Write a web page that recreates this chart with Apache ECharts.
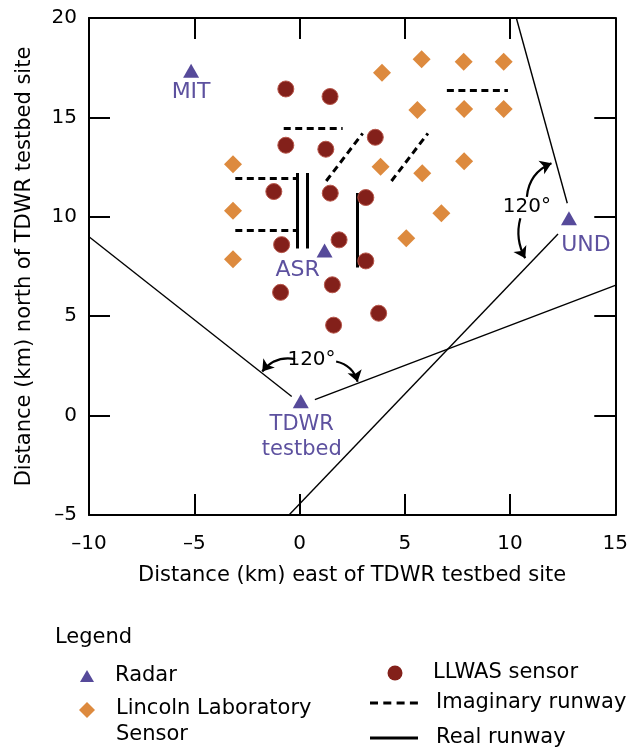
<!DOCTYPE html>
<html>
<head>
<meta charset="utf-8">
<script src="https://cdn.jsdelivr.net/npm/echarts@6/dist/echarts.min.js"></script>
<style>
html,body{margin:0;padding:0;background:#fff;}
#chart{width:631px;height:751px;}
</style>
</head>
<body>
<div id="chart"></div>
<script>
// ---------- DATA ----------
const xTicks = [-10, -5, 0, 5, 10, 15];
const yTicks = [-5, 0, 5, 10, 15, 20];

const radarNames = ['MIT', 'ASR', 'UND', 'TDWR\ntestbed'];
const radarX = [-5.15, 1.19, 12.8, 0.06];
const radarY = [17.35, 8.3, 9.93, 0.72];

const llwasX = [-0.65, 1.45, -0.65, 1.25, 3.6, -1.22, 1.46, 3.15, -0.85, 1.88, 3.15, -0.9, 1.56, 1.62, 3.76];
const llwasY = [16.43, 16.05, 13.6, 13.4, 14.0, 11.27, 11.19, 10.97, 8.6, 8.84, 7.78, 6.2, 6.58, 4.55, 5.15];

const lincolnX = [-3.16, -3.16, -3.16, 3.92, 5.8, 7.8, 9.7, 5.6, 7.82, 9.7, 3.85, 5.83, 7.82, 6.74, 5.07];
const lincolnY = [12.64, 10.3, 7.87, 17.25, 17.92, 17.8, 17.8, 15.37, 15.42, 15.42, 12.52, 12.19, 12.8, 10.18, 8.92];

// segments: [x1, y1, x2, y2]
const imaginaryRunways = [
  [-0.75, 14.45, 2.05, 14.45],
  [-3.05, 11.93, -0.12, 11.93],
  [-3.05, 9.3, -0.12, 9.3],
  [1.27, 11.8, 3.0, 14.2],
  [4.37, 11.8, 6.1, 14.2],
  [7.0, 16.35, 9.9, 16.35]
];
const realRunways = [
  [-0.12, 12.2, -0.12, 8.4],
  [0.37, 12.2, 0.37, 8.4],
  [2.75, 11.2, 2.75, 7.45]
];
const coverageLines = [
  [-10, 9.0, -0.37, 0.96],
  [0.73, 0.8, 15, 6.55],
  [10.3, 20, 12.72, 10.68],
  [-0.5, -5, 12.28, 9.13]
];
const angleArrows = [
  [-0.21, 2.84, -1.77, 2.22],
  [1.74, 2.72, 2.76, 1.7],
  [10.8, 11.0, 11.97, 12.69],
  [10.49, 9.93, 10.72, 7.92]
];
const angleLabelX = [0.57, 10.8];
const angleLabelY = [2.8, 10.5];
const angleLabelText = ['120°', '120°'];

// ---------- STYLE ----------
const FONT = '"DejaVu Sans", "Liberation Sans", Arial, sans-serif';
const radarColor = '#564a9a';
const radarTextColor = '#5d519f';
const llwasColor = '#83201a';
const lincolnColor = '#dd8a3e';
const ink = '#000000';
const arrowCurve = [-0.3, 0.3, 0.3, -0.2];
const radarLabelStyle = {
  'MIT': {offset: [0, 22], fontSize: 22},
  'ASR': {offset: [-27, 20], fontSize: 22},
  'UND': {offset: [17, 27], fontSize: 22},
  'TDWR\ntestbed': {offset: [1, 36], fontSize: 21}
};

const chart = echarts.init(document.getElementById('chart'), null, {renderer: 'canvas'});

function segs(arr) {
  return arr.map(s => ({coords: [[s[0], s[1]], [s[2], s[3]]]}));
}
const minus = v => String(v).replace('-', '\u2013');

const axisCommon = {
  type: 'value',
  interval: 5,
  axisLine: {show: true, onZero: false, lineStyle: {color: ink, width: 2}},
  axisTick: {show: true, inside: true, length: 21, lineStyle: {color: ink, width: 2}},
  splitLine: {show: false}
};

const option = {
  animation: false,
  backgroundColor: '#ffffff',
  grid: {left: 89, right: 8, top: 18, bottom: 236, containLabel: false},
  xAxis: [
    Object.assign({}, axisCommon, {
      position: 'bottom', min: xTicks[0], max: xTicks[xTicks.length - 1],
      name: 'Distance (km) east of TDWR testbed site', nameLocation: 'middle', nameGap: 50,
      nameTextStyle: {fontFamily: FONT, fontSize: 21, color: ink},
      axisLabel: {show: true, margin: 19, fontFamily: FONT, fontSize: 20, color: ink, formatter: minus}
    }),
    Object.assign({}, axisCommon, {
      position: 'top', min: xTicks[0], max: xTicks[xTicks.length - 1],
      axisLabel: {show: false}
    })
  ],
  yAxis: [
    Object.assign({}, axisCommon, {
      position: 'left', min: yTicks[0], max: yTicks[yTicks.length - 1],
      name: 'Distance (km) north of TDWR testbed site', nameLocation: 'middle', nameGap: 54,
      nameTextStyle: {fontFamily: FONT, fontSize: 21, color: ink},
      axisLabel: {show: true, margin: 12, fontFamily: FONT, fontSize: 20, color: ink, formatter: minus}
    }),
    Object.assign({}, axisCommon, {
      position: 'right', min: yTicks[0], max: yTicks[yTicks.length - 1],
      axisLabel: {show: false}
    })
  ],
  series: [
    {
      name: 'Coverage', type: 'lines', coordinateSystem: 'cartesian2d', silent: true,
      data: segs(coverageLines),
      lineStyle: {color: ink, width: 1.4, opacity: 1, curveness: 0},
      symbol: 'none'
    },
    {
      name: 'Imaginary runway', type: 'lines', coordinateSystem: 'cartesian2d', silent: true,
      data: segs(imaginaryRunways),
      lineStyle: {color: ink, width: 3, type: [7, 4.5], opacity: 1, curveness: 0},
      symbol: 'none'
    },
    {
      name: 'Real runway', type: 'lines', coordinateSystem: 'cartesian2d', silent: true,
      data: segs(realRunways),
      lineStyle: {color: ink, width: 3, opacity: 1, curveness: 0},
      symbol: 'none'
    },
    {
      name: 'Angle arrows', type: 'lines', coordinateSystem: 'cartesian2d', silent: true,
      data: angleArrows.map((s, i) => ({
        coords: [[s[0], s[1]], [s[2], s[3]]],
        lineStyle: {curveness: arrowCurve[i]}
      })),
      lineStyle: {color: ink, width: 2.2, opacity: 1},
      symbol: ['none', 'arrow'], symbolSize: 11
    },
    {
      name: 'LLWAS sensor', type: 'scatter', symbol: 'circle', symbolSize: 16,
      data: llwasX.map((x, i) => [x, llwasY[i]]),
      itemStyle: {color: llwasColor, borderColor: '#b7564a', borderWidth: 1, opacity: 1}
    },
    {
      name: 'Lincoln Laboratory Sensor', type: 'scatter', symbol: 'diamond', symbolSize: 18,
      data: lincolnX.map((x, i) => [x, lincolnY[i]]),
      itemStyle: {color: lincolnColor, opacity: 1}
    },
    {
      name: 'Radar', type: 'scatter', symbol: 'triangle', symbolSize: [16, 14],
      data: radarNames.map((n, i) => ({
        name: n, value: [radarX[i], radarY[i]],
        label: {offset: radarLabelStyle[n].offset, fontSize: radarLabelStyle[n].fontSize}
      })),
      itemStyle: {color: radarColor, opacity: 1},
      label: {
        show: true, position: 'inside', formatter: '{b}', color: radarTextColor,
        fontFamily: FONT, lineHeight: 25, align: 'center', verticalAlign: 'middle'
      }
    },
    {
      name: 'Angle labels', type: 'scatter', symbol: 'circle', symbolSize: 1, silent: true,
      data: angleLabelX.map((x, i) => ({name: angleLabelText[i], value: [x, angleLabelY[i]]})),
      itemStyle: {color: '#ffffff', opacity: 0},
      label: {show: true, position: 'inside', formatter: '{b}', color: '#000000', opacity: 1, fontFamily: FONT, fontSize: 20}
    }
  ],
  graphic: [
    {type: 'text', x: 55, y: 638, style: {text: 'Legend', font: '21px ' + FONT, fill: ink, textVerticalAlign: 'middle', verticalAlign: 'middle'}},
    {type: 'polygon', shape: {points: [[87, 670], [94, 682], [80, 682]]}, style: {fill: radarColor}},
    {type: 'text', x: 115, y: 676, style: {text: 'Radar', font: '21px ' + FONT, fill: ink, textVerticalAlign: 'middle', verticalAlign: 'middle'}},
    {type: 'polygon', shape: {points: [[87, 702], [95, 710], [87, 718], [79, 710]]}, style: {fill: lincolnColor}},
    {type: 'text', x: 116, y: 709, style: {text: 'Lincoln Laboratory', font: '21px ' + FONT, fill: ink, textVerticalAlign: 'middle', verticalAlign: 'middle'}},
    {type: 'text', x: 116, y: 735, style: {text: 'Sensor', font: '21px ' + FONT, fill: ink, textVerticalAlign: 'middle', verticalAlign: 'middle'}},
    {type: 'circle', shape: {cx: 395, cy: 673, r: 7.5}, style: {fill: llwasColor}},
    {type: 'text', x: 433, y: 673, style: {text: 'LLWAS sensor', font: '21px ' + FONT, fill: ink, textVerticalAlign: 'middle', verticalAlign: 'middle'}},
    {type: 'line', shape: {x1: 370, y1: 703, x2: 418, y2: 703}, style: {stroke: ink, lineWidth: 3, lineDash: [8, 5.3]}},
    {type: 'text', x: 436, y: 703, style: {text: 'Imaginary runway', font: '21px ' + FONT, fill: ink, textVerticalAlign: 'middle', verticalAlign: 'middle'}},
    {type: 'line', shape: {x1: 370, y1: 738, x2: 418, y2: 738}, style: {stroke: ink, lineWidth: 3}},
    {type: 'text', x: 436, y: 738, style: {text: 'Real runway', font: '21px ' + FONT, fill: ink, textVerticalAlign: 'middle', verticalAlign: 'middle'}}
  ]
};
chart.setOption(option);
</script>
</body>
</html>
